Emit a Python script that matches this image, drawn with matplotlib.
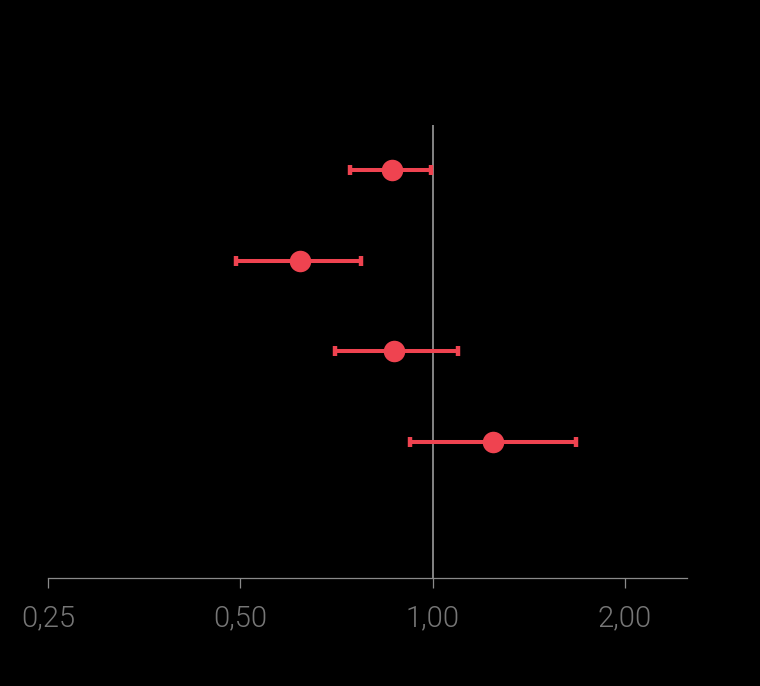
import matplotlib.pyplot as plt
from matplotlib.ticker import FixedLocator, FixedFormatter, NullLocator

# Odds ratios with 95% CI, top row first
rows = [1, 2, 3, 4]
estimate = [0.862, 0.619, 0.869, 1.241]
ci_low = [0.743, 0.492, 0.703, 0.921]
ci_high = [0.995, 0.772, 1.094, 1.674]

tick_values = [0.25, 0.5, 1.0, 2.0]
tick_labels = ['0,25', '0,50', '1,00', '2,00']

red = '#EF4350'

fig = plt.figure(figsize=(7.6, 6.86), dpi=100, facecolor='black')
ax = fig.add_axes([48 / 760, (686 - 578) / 686, (687 - 48) / 760, (578 - 125) / 686])
ax.set_facecolor('black')

ax.set_xscale('log', base=2)
ax.set_xlim(0.25, 2.5)
ax.set_ylim(5.5, 0.5)

# reference line at OR = 1
ax.axvline(1.0, color='#9a9a9a', linewidth=1.2, zorder=1)

err = [[e - l for e, l in zip(estimate, ci_low)],
       [h - e for e, h in zip(estimate, ci_high)]]
ax.errorbar(estimate, rows, xerr=err, fmt='none', ecolor=red,
            elinewidth=2.9, capsize=3.8, capthick=3.2, zorder=2)
ax.plot(estimate, rows, 'o', color=red, markersize=15.5, markeredgewidth=0, zorder=3)

for side in ['top', 'right', 'left']:
    ax.spines[side].set_visible(False)
ax.spines['bottom'].set_color('#8a8a8a')
ax.spines['bottom'].set_linewidth(0.9)

ax.xaxis.set_major_locator(FixedLocator(tick_values))
ax.xaxis.set_major_formatter(FixedFormatter(tick_labels))
ax.xaxis.set_minor_locator(NullLocator())
ax.set_yticks([])
ax.tick_params(axis='x', direction='out', length=7, width=0.9, color='#8a8a8a',
               pad=12, labelsize=21, labelcolor='#767676')
for lab in ax.get_xticklabels():
    lab.set_fontfamily(['Roboto', 'DejaVu Sans'])
    lab.set_fontweight(300)

fig.savefig('out.png', dpi=100, facecolor='black')
